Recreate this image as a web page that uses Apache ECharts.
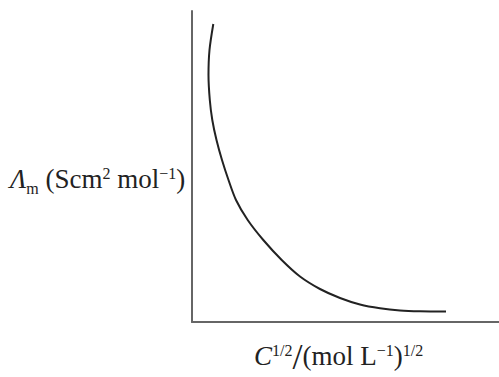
<!DOCTYPE html>
<html><head><meta charset="utf-8">
<script src="https://cdn.jsdelivr.net/npm/echarts@6/dist/echarts.min.js"></script>
<style>html,body{margin:0;padding:0;background:#fff}#c{width:499px;height:377px}</style>
</head><body><div id="c"></div>
<script>
// Curve (arbitrary units, axes have no ticks)
const concSqrt = [0.694, 0.570, 0.537, 0.580, 0.661, 0.798, 0.977, 1.189, 1.433, 1.814, 2.322, 2.922, 3.518, 4.169, 4.821, 5.472, 6.124, 6.775, 7.427, 8.274];
const molarCond = [9.582, 8.746, 7.942, 7.138, 6.495, 5.852, 5.209, 4.566, 3.923, 3.280, 2.637, 1.994, 1.463, 1.061, 0.772, 0.563, 0.441, 0.370, 0.344, 0.338];
const yLabel = '{it|Λ}{sub|m}{n| (Scm}{sup|2}{n| mol}{sup|−1}{n|)}';
const xLabel = '{it|C}{sup|1/2}{sl|/}{n|(mol L}{sup|−1}{n|)}{sup|1/2}';

const font = '"Liberation Serif", "DejaVu Serif", serif';
const chart = echarts.init(document.getElementById('c'), null, {renderer: 'svg'});
const axisCommon = {
  type: 'value', min: 0, max: 10,
  axisLine: {show: true, lineStyle: {color: '#666', width: 2}},
  axisTick: {show: false}, axisLabel: {show: false}, splitLine: {show: false}
};
const FS = 27, SS = 16;
const tok = (o) => Object.assign({fontFamily: font, color: '#222', verticalAlign: 'bottom'}, o);
const richY = {
  n: tok({fontSize: FS, padding: [0, 0, 4, 0]}),
  it: tok({fontSize: FS, fontStyle: 'italic', padding: [0, 0, 4, 0]}),
  sub: tok({fontSize: SS, padding: [0, 0, 0, 0]}),
  sup: tok({fontSize: SS, padding: [0, 0, 15, 0]})
};
const richX = {
  n: tok({fontSize: FS, padding: [0, 0, 6, 0]}),
  it: tok({fontSize: FS, fontStyle: 'italic', padding: [0, 0, 6, 0]}),
  sup: tok({fontSize: SS, padding: [0, 0, 17, 0]}),
  sl: tok({fontSize: 36, padding: [0, 0, 0, 0]})
};
chart.setOption({
  animation: false,
  grid: {left: 192, top: 11, right: 0, bottom: 55},
  xAxis: axisCommon,
  yAxis: axisCommon,
  series: [{
    type: 'line', smooth: 0.3, showSymbol: false,
    data: concSqrt.map((x, i) => [x, molarCond[i]]),
    lineStyle: {color: '#222', width: 2}
  }],
  graphic: [
    {type: 'text', left: 10, top: 165, style: {text: yLabel, fontSize: FS, fontFamily: font, fill: '#222', rich: richY}},
    {type: 'text', left: 254, top: 339, style: {text: xLabel, fontSize: FS, fontFamily: font, fill: '#222', rich: richX}}
  ]
});
</script></body></html>
